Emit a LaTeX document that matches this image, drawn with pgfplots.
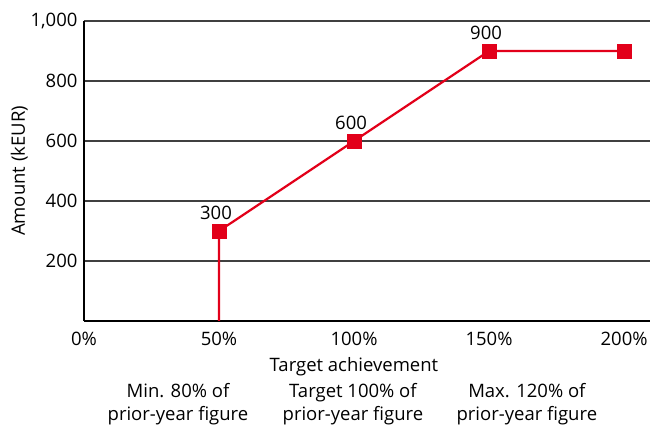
\documentclass[border=0pt]{standalone}
\usepackage{fontspec}
\setmainfont{Open Sans}
\usepackage{pgfplots}
\pgfplotsset{compat=1.18}
\definecolor{barred}{HTML}{E2001A}
\definecolor{gridgray}{HTML}{404040}
\begin{document}
\begin{tikzpicture}[font=\fontsize{18.5}{23}\selectfont]
\useasboundingbox (-84pt,-107pt) rectangle (573pt,321pt);
\begin{axis}[
  scale only axis,
  width=566pt, height=300pt,
  xmin=0, xmax=209.6,
  ymin=0, ymax=1000,
  axis x line=bottom, axis y line=left,
  axis line style={-, line width=1.8pt, black},
  xtick={0,50,100,150,200},
  xticklabels={0\%,50\%,100\%,150\%,200\%},
  ytick={200,400,600,800,1000},
  /pgf/number format/assume math mode=true,
  /pgf/number format/1000 sep={,},
  major tick length=0pt,
  ymajorgrids,
  grid style={gridgray, line width=1.2pt},
  yticklabel style={xshift=-3pt},
  xticklabel style={yshift=-8pt},
  ylabel={Amount (kEUR)},
  ylabel style={yshift=-4pt},
  xlabel={Target achievement},
  xlabel style={at={(ticklabel cs:0.477)}, yshift=-4pt},
  clip=false,
]
\addplot[barred, line width=2.2pt] coordinates {
  (50,0) (50,300) (100,600) (150,900) (200,900)
};
\addplot[only marks, mark=square*, mark size=6.8pt, mark options={fill=barred, draw=barred},
  nodes near coords, point meta=explicit symbolic,
  every node near coord/.style={black, anchor=south, xshift=-3pt, yshift=8pt}]
  coordinates {
  (50,300) [300]
  (100,600) [600]
  (150,900) [900]
  (200,900) []
};
\node[align=center] at (axis cs:34.8,0) [yshift=-83pt] {Min. 80\% of\\prior-year figure};
\node[align=center] at (axis cs:99.6,0) [yshift=-83pt] {Target 100\% of\\prior-year figure};
\node[align=center] at (axis cs:164,0) [yshift=-83pt] {Max. 120\% of\\prior-year figure};
\end{axis}
\end{tikzpicture}
\end{document}
